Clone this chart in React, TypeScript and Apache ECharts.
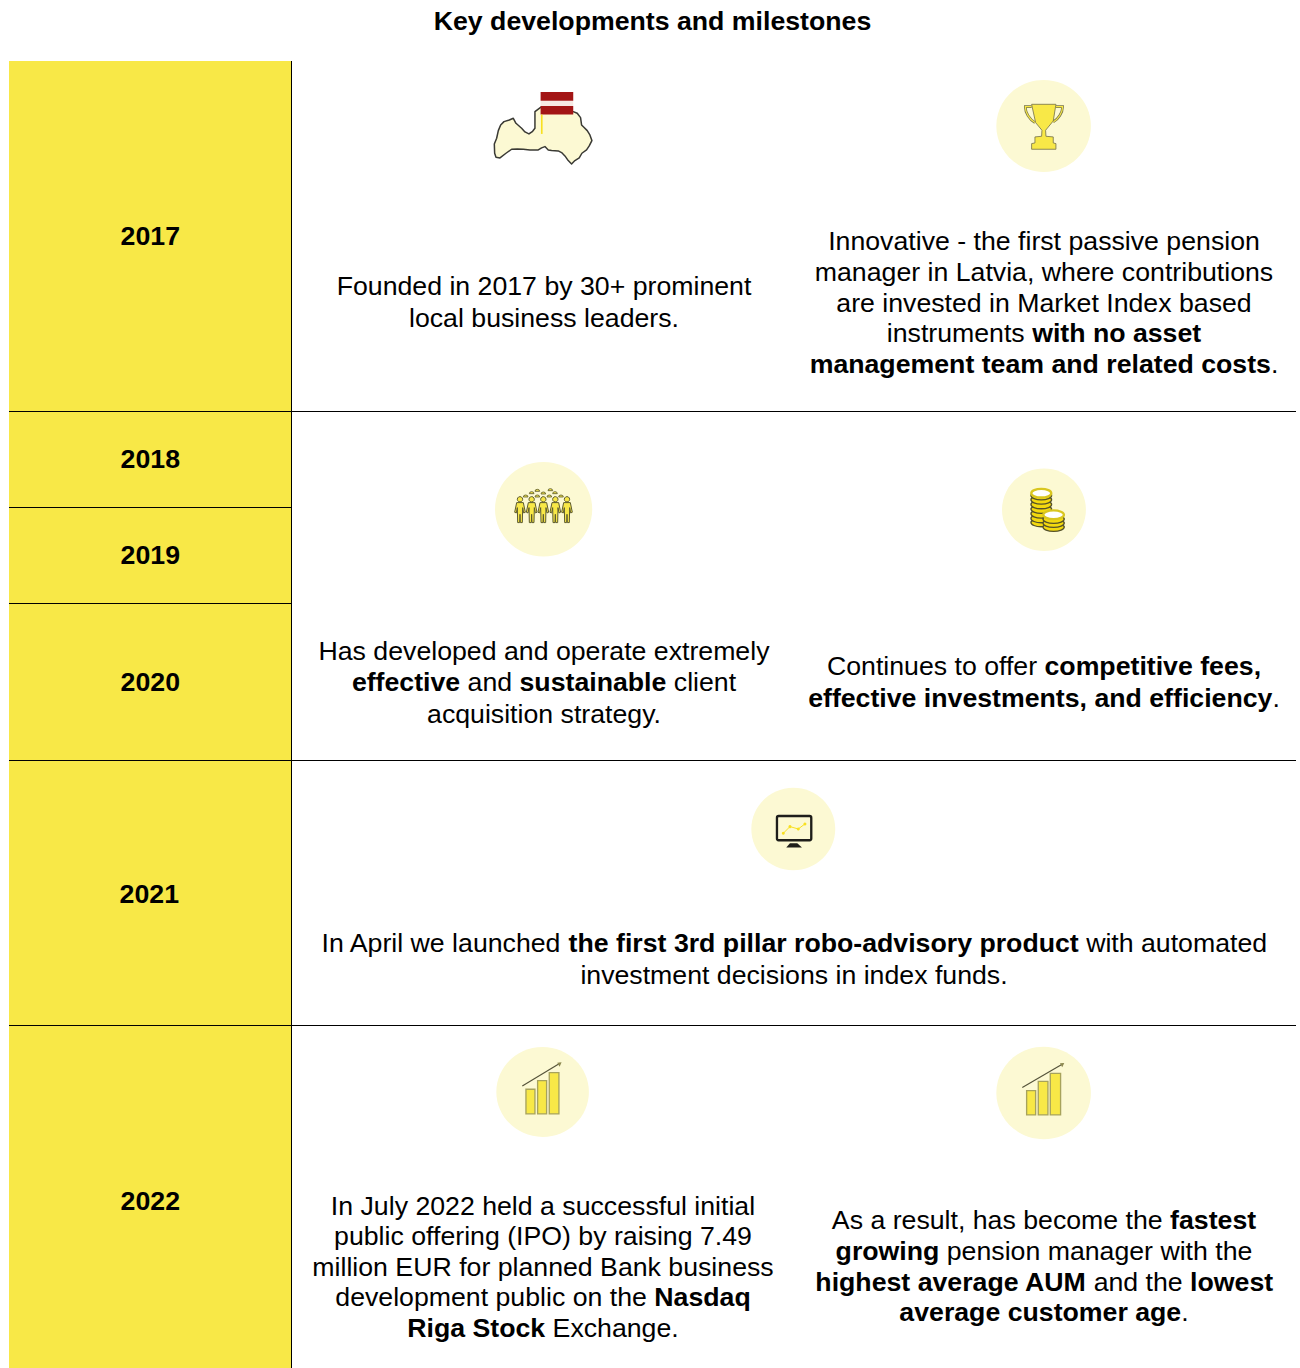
import React, { useEffect, useRef } from "react";
import * as echarts from "echarts";

const TITLE = "Key developments and milestones";
const YEARS = ["2017", "2018", "2019", "2020", "2021", "2022"];
const YEAR_Y = [236, 459, 555, 682, 894, 1201];
const FOUNDED = ["Founded in 2017 by 30+ prominent", "local business leaders."];
const INNOVATIVE = [
  "Innovative - the first passive pension",
  "manager in Latvia, where contributions",
  "are invested in Market Index based",
  "instruments {b|with no asset}",
  "{b|management team and related costs}.",
];
const DEVELOPED = [
  "Has developed and operate extremely",
  "{b|effective} and {b|sustainable} client",
  "acquisition strategy.",
];
const FEES = ["Continues to offer {b|competitive fees,}", "{b|effective investments, and efficiency}."];
const APRIL = [
  "In April we launched {b|the first 3rd pillar robo-advisory product} with automated",
  "investment decisions in index funds.",
];
const JULY = [
  "In July 2022 held a successful initial",
  "public offering (IPO) by raising 7.49",
  "million EUR for planned Bank business",
  "development public on the {b|Nasdaq}",
  "{b|Riga Stock} Exchange.",
];
const RESULT = [
  "As a result, has become the {b|fastest}",
  "{b|growing} pension manager with the",
  "{b|highest average AUM} and the {b|lowest}",
  "{b|average customer age}.",
];

const YELLOW = "#F8E847";
const COIN = "#F3D90F";
const PALE = "#FCF9D3";
const INK = "#000000";
const EDGE = "#77744A";
const FONT = '"Liberation Sans", Arial, sans-serif';
const BODY = 26.7;

echarts.graphic.registerShape(
  "latvia",
  echarts.graphic.extendPath(
    "M165 125L182 112L280 125L292 130L302 143L305 165L312 172L322 182L330 195L336 212L328 228L320 240L306 250L298 264L285 272L275 282L265 272L255 258L245 248L235 243L215 242L205 240L195 230L185 234L175 240L150 240L130 238L112 237L95 238L78 250L60 264L48 262L44 250L43 222L50 205L55 182L62 165L72 155L88 150L100 145L108 160L125 175L135 186L147 192L158 184L165 175Z",
    {}
  )
);
echarts.graphic.registerShape(
  "trophy",
  echarts.graphic.extendPath(
    "M140 100L213 100L205 150L182 178L183 196L205 198L205 216L213 218L213 235L140 235L140 218L150 216L150 198L170 196L171 178L152 155Z",
    {}
  )
);
echarts.graphic.registerShape(
  "handles",
  echarts.graphic.extendPath(
    "M140 107L121 107C121 125 133 145 150 155M213 107L233 107C233 125 220 145 205 153",
    {}
  )
);
echarts.graphic.registerShape(
  "person",
  echarts.graphic.extendPath(
    "M0 125A8 8 0 1 1 -0.1 125ZM-10 143L10 143L16 172L11 174L8 158L7 203L1 203L0 178L-1 203L-7 203L-8 158L-11 174L-16 172Z",
    {}
  )
);
echarts.graphic.registerShape(
  "hat",
  echarts.graphic.extendPath("M-7 4A7 6 0 0 1 7 4Z", {})
);
echarts.graphic.registerShape(
  "stand",
  echarts.graphic.extendPath("M150 190L172 190L186 203L139 203Z", {})
);

const txt = (text: string, x: number, y: number, size: number, weight: string) => ({
  type: "text",
  silent: true,
  style: {
    text,
    x,
    y,
    fontSize: size,
    fontFamily: FONT,
    fontWeight: weight,
    fill: INK,
    align: "center",
    verticalAlign: "middle",
    rich: { b: { fontSize: size, fontFamily: FONT, fontWeight: "bold", fill: INK } },
  },
});

const para = (lines: string[], x: number, ys: number[]) =>
  lines.map((l, i) => txt(l, x, ys[i], BODY, "normal"));

const hline = (x1: number, x2: number, y: number) => ({
  type: "line",
  silent: true,
  shape: { x1, y1: y, x2, y2: y },
  style: { stroke: INK, lineWidth: 1 },
});

const icon = (x: number, y: number, children: any[]) => ({
  type: "group",
  x,
  y,
  scaleX: 1 / 3,
  scaleY: 1 / 3,
  silent: true,
  children,
});

const disc = (cx: number, cy: number, rx: number, ry: number) => ({
  type: "ellipse",
  shape: { cx, cy, rx, ry },
  style: { fill: PALE },
});

const barIcon = (x: number, y: number, c: number[], bars: number[][], arrow: number[]) =>
  icon(x, y, [
    disc(c[0], c[1], c[2], c[3]),
    ...bars.map((b) => ({
      type: "rect",
      shape: { x: b[0], y: b[1], width: b[2] - b[0], height: b[3] - b[1] },
      style: { fill: YELLOW, stroke: "#A7A35C", lineWidth: 4 },
    })),
    {
      type: "line",
      shape: { x1: arrow[0], y1: arrow[1], x2: arrow[2], y2: arrow[3] },
      style: { stroke: "#55533A", lineWidth: 3.5 },
    },
    {
      type: "polygon",
      shape: {
        points: [
          [arrow[2] + 5, arrow[3] - 3],
          [arrow[2] - 8, arrow[3] - 2],
          [arrow[2] - 1, arrow[3] + 10],
        ],
      },
      style: { fill: "#8C8850" },
    },
  ]);

const coin = (cx: number, cy: number, rx: number, top = false) => ({
  type: "ellipse",
  shape: { cx, cy, rx, ry: 13 },
  style: { fill: top ? "#FFFFFF" : COIN, stroke: top ? "#D9C620" : "#55522A", lineWidth: top ? 7 : 4 },
});

const bigStack = [186, 174, 160, 146, 132, 118, 105].map((y) => coin(154, y, 31));
const smallStack = [200, 188, 176].map((y) => coin(191, y, 32));

const hats = [
  [122, 122],
  [140, 112],
  [157, 105],
  [157, 122],
  [175, 113],
  [193, 122],
  [196, 103],
  [210, 112],
  [228, 122],
];

const buildGraphic = () => [
  {
    type: "rect",
    silent: true,
    shape: { x: 9, y: 61, width: 282, height: 1307 },
    style: { fill: YELLOW },
  },
  {
    type: "line",
    silent: true,
    shape: { x1: 291.5, y1: 61, x2: 291.5, y2: 1368 },
    style: { stroke: INK, lineWidth: 1 },
  },
  hline(9, 1296, 411.5),
  hline(9, 291, 507.5),
  hline(9, 291, 603.5),
  hline(9, 1296, 760.5),
  hline(9, 1296, 1025.5),

  // Latvia
  icon(480, 70, [
    { type: "latvia", style: { fill: PALE, stroke: "#3A3A34", lineWidth: 4.5, lineJoin: "round" } },
    { type: "rect", shape: { x: 182, y: 92, width: 98, height: 16 }, style: { fill: "#F7E9E4" } },
    { type: "rect", shape: { x: 182, y: 66, width: 98, height: 26 }, style: { fill: "#A31515" } },
    { type: "rect", shape: { x: 182, y: 108, width: 98, height: 26 }, style: { fill: "#A31515" } },
    { type: "rect", shape: { x: 183, y: 134, width: 5, height: 58 }, style: { fill: "#F8E020" } },
  ]),
  // Trophy
  icon(985, 71, [
    disc(176, 165, 142, 138),
    { type: "handles", style: { fill: "none", stroke: EDGE, lineWidth: 8 } },
    { type: "handles", style: { fill: "none", stroke: YELLOW, lineWidth: 3.5 } },
    { type: "trophy", style: { fill: YELLOW, stroke: EDGE, lineWidth: 2.5, lineJoin: "round" } },
  ]),
  // People
  icon(485, 455, [
    disc(176, 163, 146, 142),
    ...[105, 140, 175, 211, 246].map((x) => ({
      type: "person",
      x,
      style: { fill: YELLOW, stroke: "#5C5A2E", lineWidth: 3 },
    })),
    ...hats.map((h) => ({
      type: "hat",
      x: h[0],
      y: h[1],
      style: { fill: YELLOW, stroke: "#5C5A2E", lineWidth: 2.5 },
    })),
  ]),
  // Coins
  icon(990, 460.5, [
    disc(162, 148, 126, 124),
    ...bigStack,
    coin(154, 98, 30, true),
    ...smallStack,
    coin(191, 163, 31, true),
  ]),
  // Monitor
  icon(740, 780, [
    disc(160, 147, 126, 124),
    {
      type: "rect",
      shape: { x: 111, y: 108, width: 103, height: 73, r: 5 },
      style: { fill: PALE, stroke: "#1E1E1A", lineWidth: 7 },
    },
    {
      type: "polyline",
      shape: { points: [[130, 160], [150, 140], [175, 147], [195, 132]] },
      style: { stroke: "#F8E020", lineWidth: 3, fill: "none" },
    },
    ...[[130, 160], [150, 140], [175, 147], [195, 132]].map((p) => ({
      type: "circle",
      shape: { cx: p[0], cy: p[1], r: 4.5 },
      style: { fill: "#F8E020" },
    })),
    { type: "stand", style: { fill: "#1E1E1A" } },
  ]),
  barIcon(485, 1040, [173, 156, 139, 135], [[123, 148, 150, 222], [158, 122, 185, 222], [193, 98, 222, 222]], [112, 138, 225, 70]),
  barIcon(985, 1040, [176, 159, 142, 139], [[125, 152, 152, 225], [160, 124, 189, 225], [196, 100, 227, 225]], [112, 143, 233, 72]),

  txt(TITLE, 652.5, 21, 26.7, "bold"),
  ...YEARS.map((y, i) => txt(y, i === 4 ? 149.3 : 150.3, YEAR_Y[i], 26.7, "bold")),
  ...para(FOUNDED, 544, [286, 318]),
  ...para(INNOVATIVE, 1044, [241, 272, 303, 333, 364]),
  ...para(DEVELOPED, 544, [651, 682, 714]),
  ...para(FEES, 1044, [666, 698]),
  ...para(APRIL, 794, [943, 975]),
  ...para(JULY, 543, [1206, 1236, 1267, 1297, 1328]),
  ...para(RESULT, 1044, [1220, 1251, 1282, 1312]),
];

export default function App() {
  const ref = useRef<HTMLDivElement>(null);
  useEffect(() => {
    document.body.style.margin = "0";
    const chart = echarts.init(ref.current!, null, { renderer: "svg" });
    chart.setOption({ animation: false, backgroundColor: "#ffffff", graphic: { elements: buildGraphic() } });
    return () => chart.dispose();
  }, []);
  return <div ref={ref} style={{ width: 1300, height: 1368 }} />;
}
